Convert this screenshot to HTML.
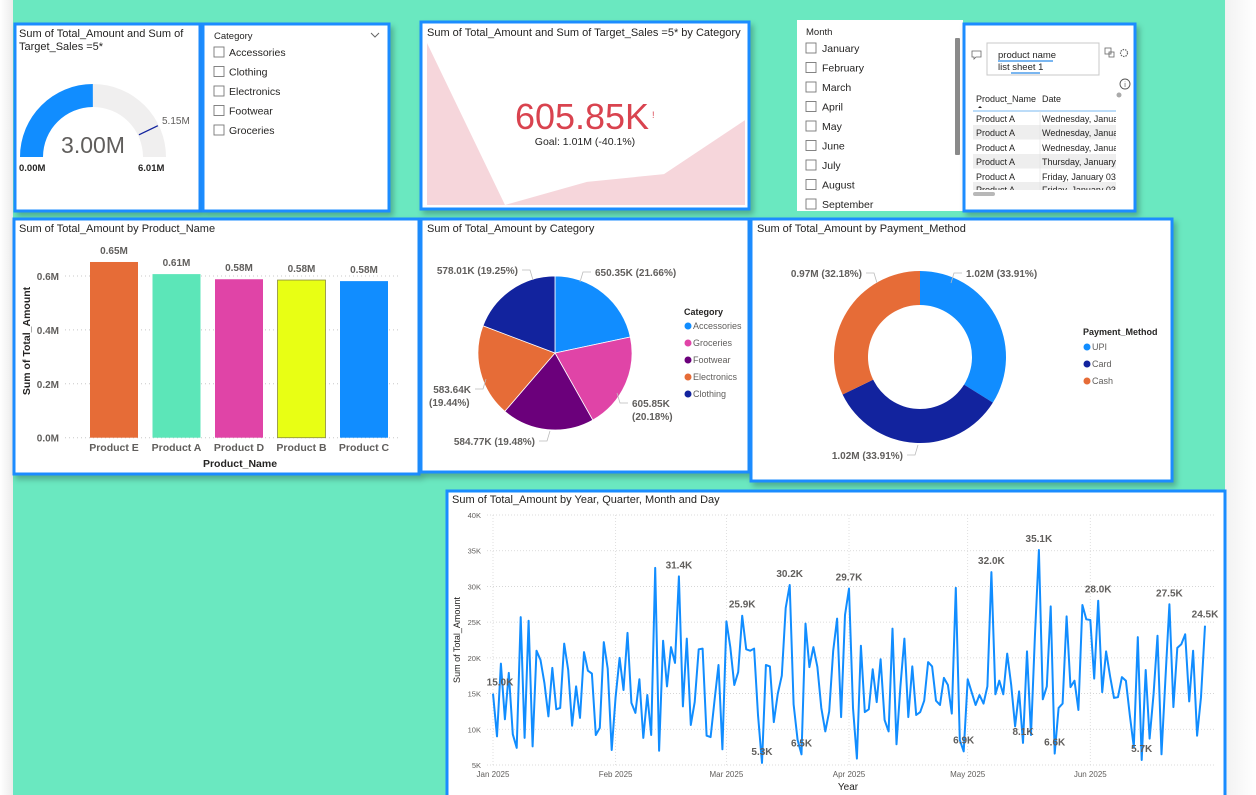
<!DOCTYPE html>
<html><head><meta charset="utf-8">
<style>
html,body{margin:0;padding:0;width:1256px;height:795px;overflow:hidden;background:#fff;}
svg{display:block;font-family:"Liberation Sans",sans-serif;}
</style></head>
<body>
<svg id="root" width="1256" height="795" viewBox="0 0 1256 795" xmlns="http://www.w3.org/2000/svg">
<defs>
<linearGradient id="lg" x1="0" x2="1"><stop offset="0" stop-color="#ffffff"/><stop offset="1" stop-color="#ececec"/></linearGradient>
<linearGradient id="rg" x1="0" x2="1"><stop offset="0" stop-color="#f2f2f2"/><stop offset="1" stop-color="#ffffff"/></linearGradient>
<clipPath id="tclip"><rect x="970" y="90" width="146" height="100"/></clipPath>
<filter id="sh" x="-5%" y="-5%" width="115%" height="120%"><feDropShadow dx="3" dy="4" stdDeviation="3" flood-color="#000" flood-opacity="0.25"/></filter>
</defs>
<rect x="0" y="0" width="13" height="795" fill="url(#lg)"/>
<rect x="13" y="0" width="1212" height="795" fill="#6ae8c0"/>
<rect x="1225" y="0" width="31" height="795" fill="url(#rg)"/>

<g>
<rect x="15" y="24" width="185" height="187" fill="#fff" stroke="#1a8cff" stroke-width="3" filter="url(#sh)"/>
<text x="19" y="37" font-size="11" fill="#252423">Sum of Total_Amount and Sum of</text>
<text x="19" y="50" font-size="11" fill="#252423">Target_Sales =5*</text>
<g id="gauge"></g>
</g>

<g>
<rect x="203" y="24" width="186" height="187" fill="#fff" stroke="#1a8cff" stroke-width="3" filter="url(#sh)"/>
<text x="214" y="39" font-size="9.5" fill="#252423">Category</text>
<path d="M371 33 l4 4 l4 -4" fill="none" stroke="#666" stroke-width="1"/>
<g id="catslicer"></g>
</g>

<g>
<rect x="421" y="22" width="328" height="187" fill="#fff" stroke="#1a8cff" stroke-width="3" filter="url(#sh)"/>
<path id="kpiArea" fill="#f6d6db"/>
<text x="427" y="36" font-size="11" fill="#252423">Sum of Total_Amount and Sum of Target_Sales =5* by Category</text>
<text x="582" y="129" font-size="36" fill="#d9434f" text-anchor="middle">605.85K</text>
<text x="652" y="118" font-size="9" fill="#d9434f">!</text>
<text x="585" y="145" font-size="10.5" fill="#252423" text-anchor="middle">Goal: 1.01M (-40.1%)</text>
</g>

<g>
<rect x="797" y="20" width="166" height="191" fill="#fff"/>
<text x="806" y="35" font-size="9.5" fill="#252423">Month</text>
<rect x="955" y="38" width="5" height="117" fill="#8a8a8a" rx="1"/>
<g id="monthslicer"></g>
</g>

<g>
<rect x="964" y="24" width="171" height="187" fill="#fff" stroke="#1a8cff" stroke-width="3" filter="url(#sh)"/>
<path d="M972 51 h9 v6 h-5 l-2 2 v-2 h-2 z" fill="none" stroke="#666" stroke-width="0.8"/>
<rect x="987" y="43" width="112" height="32" fill="#fff" stroke="#c8c8c8"/>
<text x="998" y="58" font-size="9.5" fill="#252423">product name</text>
<line x1="998" y1="61" x2="1053" y2="61" stroke="#2b8ae6" stroke-width="1.2"/>
<text x="998" y="70" font-size="9.5" fill="#252423">list sheet 1</text>
<line x1="1011" y1="73" x2="1040" y2="73" stroke="#2b8ae6" stroke-width="1.2"/>
<rect x="1105" y="48" width="6" height="6" fill="none" stroke="#666" stroke-width="0.8"/>
<rect x="1109" y="52" width="5" height="5" fill="none" stroke="#666" stroke-width="0.8"/>
<circle cx="1124" cy="53" r="3.5" fill="none" stroke="#666" stroke-width="1.2" stroke-dasharray="1.5 1"/>
<circle cx="1125" cy="84" r="5" fill="none" stroke="#555" stroke-width="0.9"/>
<text x="1125" y="87" font-size="7" text-anchor="middle" fill="#555">i</text>
<circle cx="1119" cy="95" r="2.5" fill="#aaa"/>
<text x="976" y="102" font-size="9" fill="#252423">Product_Name</text>
<path d="M978 108 l2 -2 l2 2 z" fill="#252423"/>
<text x="1042" y="102" font-size="9" fill="#252423">Date</text>
<line x1="973" y1="111" x2="1116" y2="111" stroke="#7ab8f0" stroke-width="1"/>
<g id="tablerows" clip-path="url(#tclip)"></g>
<rect x="973" y="192" width="22" height="4" rx="2" fill="#b8b8b8"/>
</g>

<g>
<rect x="14" y="219" width="405" height="255" fill="#fff" stroke="#1a8cff" stroke-width="3" filter="url(#sh)"/>
<text x="19" y="232" font-size="11" fill="#252423">Sum of Total_Amount by Product_Name</text>
<g id="bars"></g>
<text transform="translate(30,341) rotate(-90)" font-size="10.5" font-weight="bold" fill="#252423" text-anchor="middle">Sum of Total_Amount</text>
<text x="240" y="467" font-size="10.5" font-weight="bold" fill="#252423" text-anchor="middle">Product_Name</text>
</g>

<g>
<rect x="421" y="219" width="328" height="253" fill="#fff" stroke="#1a8cff" stroke-width="3" filter="url(#sh)"/>
<text x="427" y="232" font-size="11" fill="#252423">Sum of Total_Amount by Category</text>
<g id="pie"></g>
</g>

<g>
<rect x="751" y="219" width="421" height="262" fill="#fff" stroke="#1a8cff" stroke-width="3" filter="url(#sh)"/>
<text x="757" y="232" font-size="11" fill="#252423">Sum of Total_Amount by Payment_Method</text>
<g id="donut"></g>
</g>

<g>
<rect x="447" y="491" width="778" height="310" fill="#fff" stroke="#1a8cff" stroke-width="3"/>
<text x="452" y="503" font-size="11" fill="#252423">Sum of Total_Amount by Year, Quarter, Month and Day</text>
<g id="line"></g>
<text transform="translate(460,640) rotate(-90)" font-size="9" fill="#252423" text-anchor="middle">Sum of Total_Amount</text>
<text x="848" y="790" font-size="10" fill="#252423" text-anchor="middle">Year</text>
</g>
</svg>
<script>
var NS='http://www.w3.org/2000/svg';
function mk(tag,attrs,parent,txt){var e=document.createElementNS(NS,tag);for(var k in attrs)e.setAttribute(k,attrs[k]);if(txt!==undefined)e.textContent=txt;parent.appendChild(e);return e;}

var gaugeValue=3.00, gaugeMax=6.01, gaugeTarget=5.15;
var kpiTrend=[42,0,6,8,22];
var sliderCategories=['Accessories','Clothing','Electronics','Footwear','Groceries'];
var sliderMonths=['January','February','March','April','May','June','July','August','September'];
var tableProducts=['Product A','Product A','Product A','Product A','Product A','Product A'];
var tableDates=['Wednesday, January 01, 2025','Wednesday, January 01, 2025','Wednesday, January 01, 2025','Thursday, January 02, 2025','Friday, January 03, 2025','Friday, January 03, 2025'];
var barCategories=['Product E','Product A','Product D','Product B','Product C'];
var barValues=[0.652,0.607,0.588,0.585,0.581];
var barLabels=['0.65M','0.61M','0.58M','0.58M','0.58M'];
var barColors=['#e66c37','#5ce6b8','#e044a7','#e8ff14','#118dff'];
var barTicks=[0,0.2,0.4,0.6];
var pieCategories=['Accessories','Groceries','Footwear','Electronics','Clothing'];
var pieValues=[650.35,605.85,584.77,583.64,578.01];
var pieColors=['#118dff','#e044a7','#6b007b','#e66c37','#12239e'];
var payMethods=['UPI','Card','Cash'];
var payValues=[1.018,1.018,0.966];
var payLabels=['1.02M (33.91%)','1.02M (33.91%)','0.97M (32.18%)'];
var payColors=['#118dff','#12239e','#e66c37'];
var dailyValues=[15.0,9,19.2,11.4,17.9,9.3,7.4,25.7,8.8,25.2,7.6,21,19.7,16.5,11.8,18.6,12.8,13,22,18.3,10.5,16,11.6,20.8,18.2,17.8,9.2,10.2,22.2,18.5,7.1,
14.5,20,15.5,23.5,13.7,12.3,17,8.8,14.8,9.2,32.6,7,22.4,16,21.5,19.3,31.4,13.2,22.7,10.6,13.8,21.2,21.3,9.1,8.9,14,19,7.2,
25.1,21.5,16.2,18,25.9,21.2,21,21.3,12,5.3,19,18.8,11,15,17.5,27,30.2,13.5,8.5,6.5,24.8,18.7,21.5,18.7,13,9.7,12.5,21,25.5,11.7,26,
29.7,13,5.9,21.7,12.4,12.8,18.4,13.8,19.8,11.3,9.7,24.1,7.9,16,22.7,11.7,18.8,12,12.4,14,19.4,18.8,14,13.4,17.2,16.2,12.2,29.8,8.5,6.9,
17,15.2,13.4,14.8,13.6,16,32,14.9,16.8,14.9,20.6,16.2,10.4,15.3,8.1,20.9,9.2,23,35.1,14.2,16,27.2,6.6,13,13.6,25.8,15.9,16.8,12.7,27.4,25.4,
25.3,17.1,28,15.2,20.9,17.4,14.4,14.5,17.3,16.8,12,7.5,22.9,5.7,18.3,8.7,15,23.1,6.5,17,27.5,13.1,21.4,21.9,23.3,13.9,21,9.1,14.5,24.5];
var lineLabelIdx=[0,47,63,68,75,78,90,119,126,134,138,142,153,164,171,180];
var lineTicks=[5,10,15,20,25,30,35,40];
var monthNames=['Jan 2025','Feb 2025','Mar 2025','Apr 2025','May 2025','Jun 2025'];
var monthStartIdx=[0,31,59,90,120,151];

(function(){
var g=document.getElementById('gauge');var cx=93,cy=157,R=73,r=50;
function arc(a0,a1){var p=function(rad,a){return [cx+rad*Math.cos(a),cy-rad*Math.sin(a)];};
var A=p(R,a0),B=p(R,a1),C=p(r,a1),D=p(r,a0);
return 'M'+A+' A'+R+' '+R+' 0 0 1 '+B+' L'+C+' A'+r+' '+r+' 0 0 0 '+D+' Z';}
var bg=mk('path',{d:arc(Math.PI,0),fill:'#f0efef'},g);

var fa=Math.PI*(1-gaugeValue/gaugeMax);
var fp=mk('path',{d:arc(Math.PI,fa),fill:'#118dff'},g);

var ta=Math.PI*(1-gaugeTarget/gaugeMax);
var tl=mk('line',{x1:cx+(r+1)*Math.cos(ta),y1:cy-(r+1)*Math.sin(ta),x2:cx+(R-1)*Math.cos(ta),y2:cy-(R-1)*Math.sin(ta),stroke:'#12239e','stroke-width':1.3},g);

var t=mk('text',{x:93,y:153,'font-size':23,fill:'#605e5c','text-anchor':'middle'},g,gaugeValue.toFixed(2)+'M');

var t2=mk('text',{x:162,y:124,'font-size':10,fill:'#605e5c'},g,gaugeTarget.toFixed(2)+'M');

var t3=mk('text',{x:19,y:171,'font-size':9.5,'font-weight':'bold',fill:'#252423'},g,'0.00M');

var t4=mk('text',{x:138,y:171,'font-size':9.5,'font-weight':'bold',fill:'#252423'},g,gaugeMax.toFixed(2)+'M');

})();

(function(){
var xs=[427,505,587,664,745];var base=205;var d='M427 '+base;
var yk=function(v){return base-v*(162/42);};
for(var i=0;i<kpiTrend.length;i++){d+=' L'+xs[i]+' '+yk(kpiTrend[i]);}
d+=' L745 '+base+' Z';
document.getElementById('kpiArea').setAttribute('d',d);
})();

(function(){
var g=document.getElementById('catslicer');
sliderCategories.forEach(function(c,i){var y=47+i*19.5;
var b=mk('rect',{x:214,y:y,width:10,height:10,fill:'#fff',stroke:'#777','stroke-width':0.9},g);

var t=mk('text',{x:229,y:y+9,'font-size':10.5,fill:'#252423'},g,c);
});
var m=document.getElementById('monthslicer');
sliderMonths.forEach(function(c,i){var y=43+i*19.5;if(y>203)y=199;
var b=mk('rect',{x:806,y:y,width:10,height:10,fill:'#fff',stroke:'#777','stroke-width':0.9},m);

var t=mk('text',{x:822,y:y+9,'font-size':10.5,fill:'#252423'},m,c);
});
mk('rect',{x:797,y:211,width:166,height:10,fill:'#6ae8c0'},m);
})();

(function(){
var g=document.getElementById('tablerows');var tops=[111,125,140,154,169,182];
tableProducts.forEach(function(p,i){var y=tops[i];
if(i%2==1){mk('rect',{x:973,y:y,width:143,height:14.5,fill:'#eeeeee'},g);}
var a=mk('text',{x:976,y:y+11,'font-size':9,fill:'#252423'},g,p);

var b=mk('text',{x:1042,y:y+11,'font-size':9,fill:'#252423'},g,tableDates[i]);
});
mk('line',{x1:1040,y1:111,x2:1040,y2:190,stroke:'#e0e0e0','stroke-width':0.6},g);
})();

(function(){
var g=document.getElementById('bars');
var y0=437.7,pxPer=269.5;function ys(v){return y0-v*pxPer;}
var left=90,step=62.5,bw=48;
barTicks.forEach(function(t){var y=ys(t);
var l=mk('line',{x1:65,x2:400,y1:y,y2:y,stroke:'#c8c8c8','stroke-dasharray':'1 3','stroke-width':1},g);

var tx=mk('text',{x:59,y:y+4,'font-size':10,'font-weight':'bold',fill:'#605e5c','text-anchor':'end'},g,t.toFixed(1)+'M');
});
barCategories.forEach(function(c,i){var x=left+i*step;var y=ys(barValues[i]);
var r=mk('rect',{x:x,y:y,width:bw,height:y0-y,fill:barColors[i],stroke:i==3?'#8a8a40':'none','stroke-width':0.8},g);

var lb=mk('text',{x:x+bw/2,y:y-8,'font-size':10,'font-weight':'bold',fill:'#605e5c','text-anchor':'middle'},g,barLabels[i]);

var xl=mk('text',{x:x+bw/2,y:451,'font-size':10.5,'font-weight':'bold',fill:'#605e5c','text-anchor':'middle'},g,c);
});
})();

function leader(g,lx,ly,anchor,up){
  // short elbow connector next to label
  var d=anchor=='start'?-1:1;
  var xe=lx+d*4, xm=lx+d*12, yv=ly-4, ye=up?ly+6:ly-14;
  mk('polyline',{points:xe+','+yv+' '+xm+','+yv+' '+(xm+d*3)+','+ye,fill:'none',stroke:'#bbb','stroke-width':0.8},g);
}

(function(){
var g=document.getElementById('pie');var cx=555,cy=353,R=77;
var tot=pieValues.reduce(function(a,b){return a+b;},0);var a=-Math.PI/2;
var lblPos=[[595,276,'start',1],[632,411,'start',0],[535,445,'end',0],[471,397,'end',0],[518,274,'end',1]];
pieValues.forEach(function(v,i){var a1=a+v/tot*2*Math.PI;
var p0=[cx+R*Math.cos(a),cy+R*Math.sin(a)],p1=[cx+R*Math.cos(a1),cy+R*Math.sin(a1)];
var s=mk('path',{d:'M'+cx+' '+cy+' L'+p0+' A'+R+' '+R+' 0 '+((a1-a)>Math.PI?1:0)+' 1 '+p1+' Z',fill:pieColors[i],stroke:'#fff','stroke-width':0.8},g);

var lp=lblPos[i];
var pct=(v/tot*100).toFixed(2)+'%';var txt=v.toFixed(2)+'K';
var two=(i==1||i==3);
leader(g,lp[0],lp[1]-(two?4:0),lp[2],lp[3]);
var t=mk('text',{x:lp[0],y:lp[1]-(two?4:0),'font-size':10,'font-weight':'bold',fill:'#605e5c','text-anchor':lp[2]},g,two?txt:txt+' ('+pct+')');

if(two){var t2=mk('text',{x:i==3?429:lp[0],y:lp[1]+9,'font-size':10,'font-weight':'bold',fill:'#605e5c'},g,'('+pct+')');
}
a=a1;});
var lt=mk('text',{x:684,y:315,'font-size':9,'font-weight':'bold',fill:'#252423'},g,'Category');

pieCategories.forEach(function(c,i){var y=326+i*17;
var d=mk('circle',{cx:688,cy:y,r:3.5,fill:pieColors[i]},g);

var t=mk('text',{x:693,y:y+3,'font-size':9,fill:'#605e5c'},g,c);
});
})();

(function(){
var g=document.getElementById('donut');var cx=920,cy=357,R=86,r=52;
var tot=payValues.reduce(function(a,b){return a+b;},0);var a=-Math.PI/2;
var lblPos=[[966,277,'start',1],[903,459,'end',0],[862,277,'end',1]];
payValues.forEach(function(v,i){var a1=a+v/tot*2*Math.PI;var lg=(a1-a)>Math.PI?1:0;
var P=function(rad,an){return [cx+rad*Math.cos(an),cy+rad*Math.sin(an)];};
var d='M'+P(R,a)+' A'+R+' '+R+' 0 '+lg+' 1 '+P(R,a1)+' L'+P(r,a1)+' A'+r+' '+r+' 0 '+lg+' 0 '+P(r,a)+' Z';
var s=mk('path',{d:d,fill:payColors[i]},g);

var lp=lblPos[i];
leader(g,lp[0],lp[1],lp[2],lp[3]);
var t=mk('text',{x:lp[0],y:lp[1],'font-size':10,'font-weight':'bold',fill:'#605e5c','text-anchor':lp[2]},g,payLabels[i]);

a=a1;});
var lt=mk('text',{x:1083,y:335,'font-size':9,'font-weight':'bold',fill:'#252423'},g,'Payment_Method');

payMethods.forEach(function(c,i){var y=347+i*17;
var d=mk('circle',{cx:1087,cy:y,r:3.5,fill:payColors[i]},g);

var t=mk('text',{x:1092,y:y+3,'font-size':9,fill:'#605e5c'},g,c);
});
})();

(function(){
var g=document.getElementById('line');
var x0=493,x1=1205,n=dailyValues.length-1;
function xs(i){return x0+(x1-x0)*i/n;}
function ys(v){return 765-(v-5)*(250/35);}
lineTicks.forEach(function(t){var y=ys(t);
var l=mk('line',{x1:487,x2:1215,y1:y,y2:y,stroke:'#d0d0d0','stroke-dasharray':'1 2','stroke-width':0.8},g);

var tx=mk('text',{x:481,y:y+3,'font-size':7.5,fill:'#605e5c','text-anchor':'end'},g,t+'K');
});
monthNames.forEach(function(m,i){var x=xs(monthStartIdx[i]);
var l=mk('line',{x1:x,x2:x,y1:515,y2:765,stroke:'#d8d8d8','stroke-dasharray':'1 2','stroke-width':0.8},g);

var tx=mk('text',{x:x,y:777,'font-size':8,fill:'#605e5c','text-anchor':'middle'},g,m);
});
var pts=dailyValues.map(function(v,i){return xs(i).toFixed(1)+','+ys(v).toFixed(1);}).join(' ');
var pl=mk('polyline',{points:pts,fill:'none',stroke:'#118dff','stroke-width':2,'stroke-linejoin':'round'},g);

lineLabelIdx.forEach(function(i){var v=dailyValues[i];
var t=mk('text',{x:xs(i)+(i==0?7:0),y:ys(v)-8,'font-size':10,'font-weight':'bold',fill:'#605e5c','text-anchor':'middle'},g,v.toFixed(1)+'K');
});
})();
</script>
</body></html>
